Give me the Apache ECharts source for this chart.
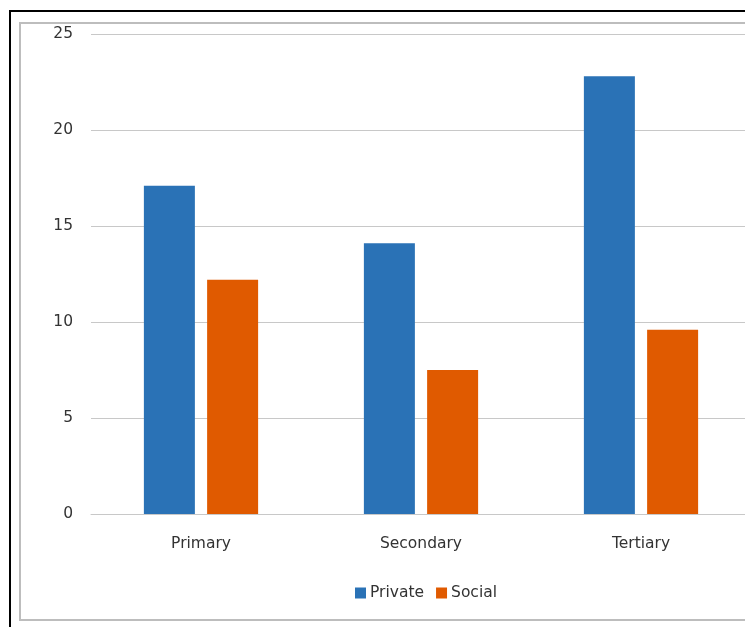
<html>
<head>
    <meta charset="utf-8" />
    <script src="https://cdn.jsdelivr.net/npm/echarts@6/dist/echarts.min.js"></script>
    <title>Private vs Social</title>
    <style>
        html, body {
            margin: 0;
            padding: 0;
            overflow: hidden;
            background: #fff;
        }
        #chart {
            width: 780px;
            height: 627px;
        }
    </style>
</head>
<body>
    <div id="chart"></div>
    <script type="text/javascript">
        var categories = ['Primary', 'Secondary', 'Tertiary'];
        var privateValues = [17.1, 14.1, 22.8];
        var socialValues = [12.2, 7.5, 9.6];
        var yTicks = [0, 5, 10, 15, 20, 25];

        var chart = echarts.init(document.getElementById('chart'));

        var option = {
            animation: false,
            textStyle: {
                fontFamily: 'DejaVu Sans'
            },
            graphic: [{
                // outer black frame
                type: 'rect',
                shape: { x: 10, y: 11, width: 800, height: 700 },
                style: { fill: null, stroke: '#000', lineWidth: 2 }
            }, {
                // inner grey frame
                type: 'rect',
                shape: { x: 20, y: 23, width: 800, height: 597 },
                style: { fill: null, stroke: '#bdbdbd', lineWidth: 2 }
            }],
            legend: {
                data: ['Private', 'Social'],
                left: 350,
                top: 580,
                itemWidth: 11,
                itemHeight: 11,
                itemGap: 12,
                icon: 'rect',
                textStyle: {
                    fontSize: 15.5,
                    color: '#333',
                    padding: [0, 0, 0, -1]
                }
            },
            grid: {
                left: 91,
                top: 34,
                width: 660,
                height: 480
            },
            xAxis: {
                type: 'category',
                data: categories,
                axisTick: { show: false },
                axisLine: { lineStyle: { color: '#c8c8c8', width: 1 } },
                axisLabel: {
                    fontSize: 15.5,
                    color: '#333',
                    margin: 22
                }
            },
            yAxis: {
                type: 'value',
                min: yTicks[0],
                max: yTicks[yTicks.length - 1],
                interval: 5,
                axisLine: { show: false },
                axisTick: { show: false },
                axisLabel: {
                    fontSize: 15.5,
                    color: '#333',
                    margin: 18
                },
                splitLine: { lineStyle: { color: '#c8c8c8', width: 1 } }
            },
            series: [{
                name: 'Private',
                type: 'bar',
                data: privateValues,
                barWidth: 51,
                barGap: '24%',
                itemStyle: { color: '#2a72b6' }
            }, {
                name: 'Social',
                type: 'bar',
                data: socialValues,
                barWidth: 51,
                itemStyle: { color: '#e05a00' }
            }]
        };

        chart.setOption(option);
    </script>
</body>
</html>
